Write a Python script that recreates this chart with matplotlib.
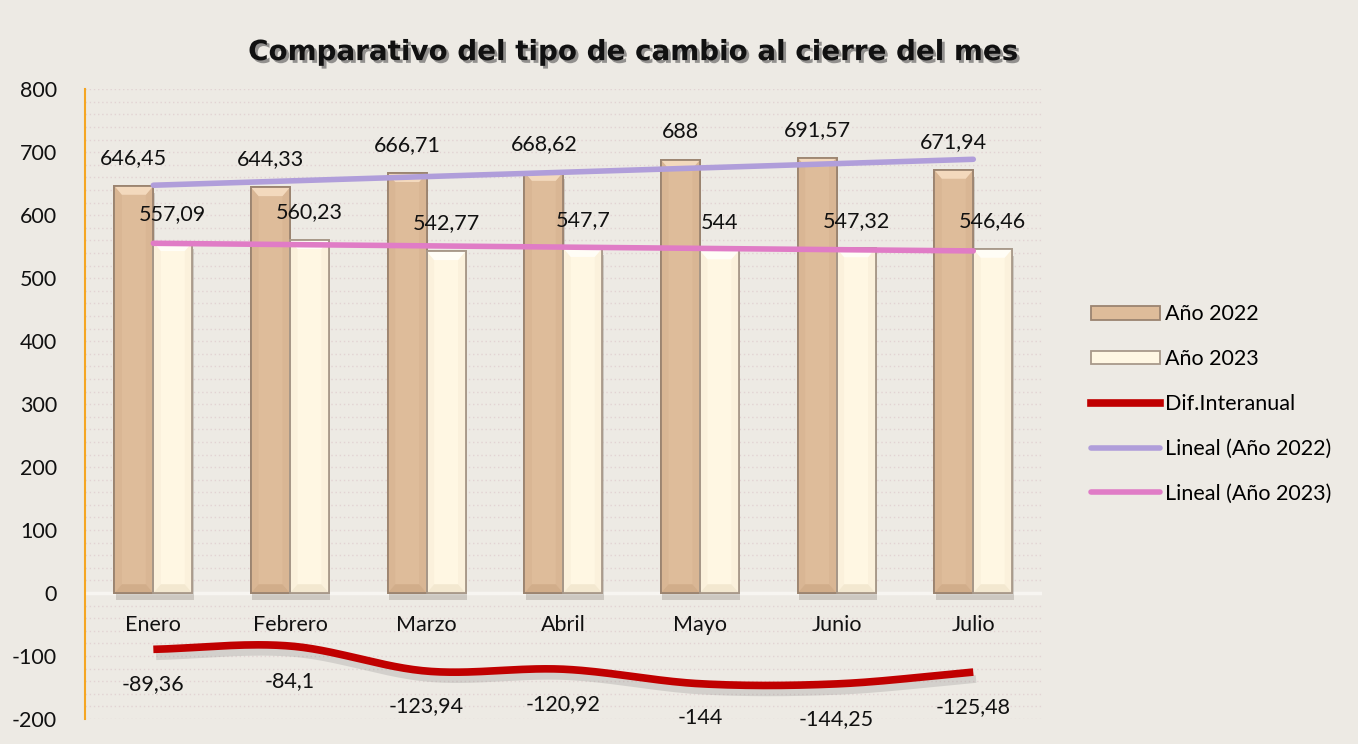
#!/usr/bin/env python3

import numpy as np
import matplotlib
matplotlib.use("Agg")
import matplotlib.pyplot as plt
import matplotlib.patheffects as pe
from matplotlib.patches import Patch, Polygon
from matplotlib.lines import Line2D

meses = ["Enero", "Febrero", "Marzo", "Abril", "Mayo", "Junio", "Julio"]
anio_2022 = [646.45, 644.33, 666.71, 668.62, 688, 691.57, 671.94]
anio_2023 = [557.09, 560.23, 542.77, 547.7, 544, 547.32, 546.46]
dif_interanual = [-89.36, -84.1, -123.94, -120.92, -144, -144.25, -125.48]
yticks = [-200, -100, 0, 100, 200, 300, 400, 500, 600, 700, 800]

BG = "#EDEAE4"
C2022 = "#DEBC9A"
C2023 = "#FFF7E3"
ROJO = "#C00000"
LILA = "#B09EDA"
ROSA = "#E07CC6"

# colores del biselado: (arriba, abajo, lados)
BISEL = {
    C2022: ("#F3D9BD", "#D1AD8A", "#D9B694"),
    C2023: ("#FFFDF6", "#F3E8D0", "#FBF1DC"),
}


def fmt(v):
    s = ("%.2f" % v).rstrip("0").rstrip(".")
    return s.replace(".", ",")


def catmull_rom(xs, ys, n=30):
    # curva suave tipo Excel para dibujar la linea
    px = np.concatenate([[2 * xs[0] - xs[1]], xs, [2 * xs[-1] - xs[-2]]])
    py = np.concatenate([[2 * ys[0] - ys[1]], ys, [2 * ys[-1] - ys[-2]]])
    outx, outy = [], []
    for i in range(1, len(px) - 2):
        t = np.linspace(0, 1, n, endpoint=False)
        for arr, out in ((px, outx), (py, outy)):
            p0, p1, p2, p3 = arr[i - 1], arr[i], arr[i + 1], arr[i + 2]
            out.extend(0.5 * (2 * p1 + (-p0 + p2) * t
                              + (2 * p0 - 5 * p1 + 4 * p2 - p3) * t ** 2
                              + (-p0 + 3 * p1 - 3 * p2 + p3) * t ** 3))
    outx.append(xs[-1])
    outy.append(ys[-1])
    return np.array(outx), np.array(outy)


def biselar(ax, bar, color, dx=0.055, dy=14):
    x0, y0 = bar.get_x(), bar.get_y()
    x1, y1 = x0 + bar.get_width(), y0 + bar.get_height()
    top, bot, side = BISEL[color]
    caras = [
        ([(x0, y0), (x0, y1), (x0 + dx, y1 - dy), (x0 + dx, y0 + dy)], side),
        ([(x1, y0), (x1, y1), (x1 - dx, y1 - dy), (x1 - dx, y0 + dy)], side),
        ([(x0, y1), (x1, y1), (x1 - dx, y1 - dy), (x0 + dx, y1 - dy)], top),
        ([(x0, y0), (x1, y0), (x1 - dx, y0 + dy), (x0 + dx, y0 + dy)], bot),
    ]
    for pts, c in caras:
        ax.add_patch(Polygon(pts, closed=True, facecolor=c, edgecolor="none", zorder=3.5))


plt.rcParams["font.family"] = ["Lato", "DejaVu Sans"]

fig = plt.figure(figsize=(13.58, 7.44), dpi=100, facecolor=BG)
ax = fig.add_axes([0.0626, 0.0336, 0.7044, 0.8464], facecolor=BG)

x = np.arange(len(meses))
w = 0.285

ax.set_ylim(-200, 800)
ax.set_xlim(-0.5, len(meses) - 0.5)

# rejilla punteada cada 20
for yv in np.arange(-200, 801, 20):
    ax.axhline(yv, color="#E2D3D3", lw=1.0, ls=(0, (1, 2)), zorder=0)
ax.axhline(0, color="#F7F5F1", lw=2.5, zorder=1)

sombra = [pe.SimplePatchShadow(offset=(1, -5), shadow_rgbFace="#6f655a", alpha=0.25), pe.Normal()]
b1 = ax.bar(x - w / 2, anio_2022, w, color=C2022, edgecolor="#9B8470", lw=1.3, zorder=3)
b2 = ax.bar(x + w / 2, anio_2023, w, color=C2023, edgecolor="#A8998A", lw=1.3, zorder=3)
for b in b1:
    b.set_path_effects(sombra)
    biselar(ax, b, C2022)
for b in b2:
    b.set_path_effects(sombra)
    biselar(ax, b, C2023)
# borde otra vez por encima del biselado
for b in list(b1) + list(b2):
    ax.add_patch(plt.Rectangle((b.get_x(), b.get_y()), b.get_width(), b.get_height(),
                               facecolor="none", edgecolor=b.get_edgecolor(), lw=1.3, zorder=3.6))

for xi, v in zip(x, anio_2022):
    ax.annotate(fmt(v), (xi - w / 2, v), xytext=(0, 20), textcoords="offset points",
                ha="center", va="center", fontsize=15.5, color="#111111", zorder=6)
for xi, v in zip(x, anio_2023):
    ax.annotate(fmt(v), (xi + w / 2, v), xytext=(0, 20), textcoords="offset points",
                ha="center", va="center", fontsize=15.5, color="#111111", zorder=6)

# lineas de tendencia
for serie, color in ((anio_2022, LILA), (anio_2023, ROSA)):
    m, c = np.polyfit(x, serie, 1)
    ax.plot([x[0], x[-1]], [m * x[0] + c, m * x[-1] + c], color=color, lw=4,
            solid_capstyle="round", zorder=5)

# diferencia interanual
sx, sy = catmull_rom(x.astype(float), np.array(dif_interanual, dtype=float))
ax.plot(sx, sy, color=ROJO, lw=5.5, solid_capstyle="butt", zorder=4,
        path_effects=[pe.SimpleLineShadow(offset=(2, -5), shadow_color="#777777", alpha=0.22),
                      pe.Normal()])
for xi, v in zip(x, dif_interanual):
    ax.annotate(fmt(v), (xi, v), xytext=(0, -25), textcoords="offset points",
                ha="center", va="center", fontsize=15.5, color="#111111", zorder=6)

for xi, mes in zip(x, meses):
    ax.text(xi, -50, mes, ha="center", va="center", fontsize=15.5, color="#111111", zorder=6)

ax.set_xticks([])
ax.set_yticks(yticks)
ax.set_yticklabels([str(t) for t in yticks], fontsize=15.5, color="#111111")
ax.tick_params(axis="y", length=0, pad=20)
for s in ("top", "right", "bottom"):
    ax.spines[s].set_visible(False)
ax.spines["left"].set_color("#F5A623")
ax.spines["left"].set_linewidth(1.5)

fig.text(0.4665, 0.93, "Comparativo del tipo de cambio al cierre del mes",
         ha="center", va="center", fontsize=20, fontweight="bold", color="#111111",
         family="DejaVu Sans",
         path_effects=[pe.withSimplePatchShadow(offset=(2, -2), shadow_rgbFace="#555555", alpha=0.6)])

handles = [
    Patch(facecolor=C2022, edgecolor="#9B8470", lw=1.3),
    Patch(facecolor=C2023, edgecolor="#A8998A", lw=1.3),
    Line2D([0], [0], color=ROJO, lw=5.5),
    Line2D([0], [0], color=LILA, lw=4, solid_capstyle="round"),
    Line2D([0], [0], color=ROSA, lw=4, solid_capstyle="round"),
]
labels = ["Año 2022", "Año 2023", "Dif.Interanual", "Lineal (Año 2022)", "Lineal (Año 2023)"]
fig.legend(handles, labels, loc="center left", bbox_to_anchor=(0.789, 0.457),
           frameon=False, fontsize=15.5, handlelength=3.2, handleheight=0.6,
           labelspacing=1.15, handletextpad=0.25)

fig.savefig("out.png", dpi=100, facecolor=BG)
